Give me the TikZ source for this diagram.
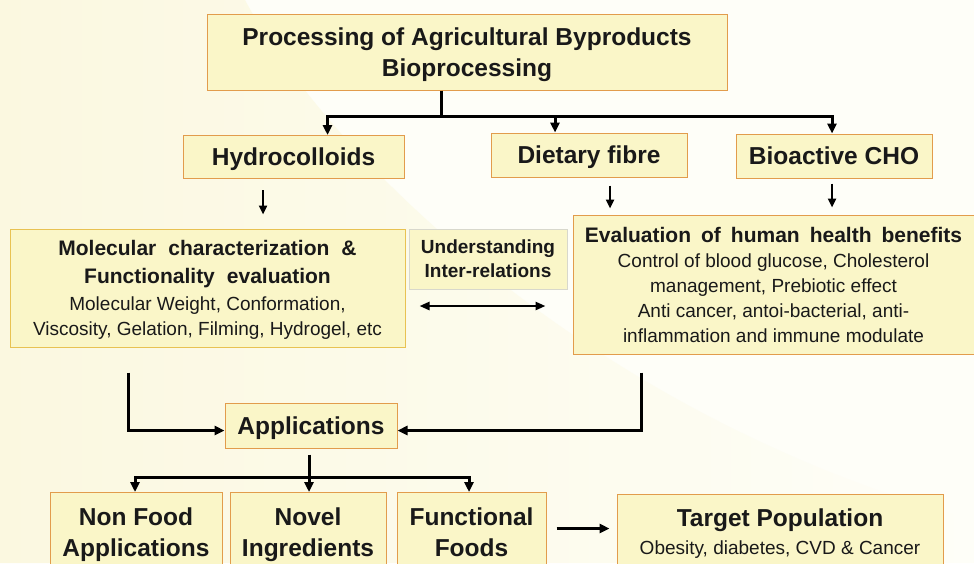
\documentclass[tikz,border=0pt]{standalone}
\usepackage{fontspec}
\setmainfont{Liberation Sans}
\usetikzlibrary{arrows.meta,positioning}
\definecolor{boxfill}{HTML}{FAF6C8}
\definecolor{boxline}{HTML}{E29C4C}
\definecolor{goldline}{HTML}{E8C252}
\definecolor{greyline}{HTML}{D8D8CC}
\definecolor{cream}{HTML}{FBF8E0}
\definecolor{paper}{HTML}{FEFEF8}
\tikzset{
  box/.style={draw=boxline, fill=boxfill, line width=1pt, align=center, inner sep=0pt, text=black!90},
  big/.style={font=\bfseries\fontsize{24.5}{31}\selectfont, text depth=0pt},
  conn/.style={line width=3pt},
  arr/.style={conn, -{Triangle[length=10pt,width=9pt]}},
  thinarr/.style={line width=2.4pt, -{Triangle[length=9pt,width=8pt]}},
  dbl/.style={line width=2.5pt, {Triangle[length=10pt,width=8pt]}-{Triangle[length=10pt,width=8pt]}}
}
\begin{document}
\begin{tikzpicture}[x=1pt,y=-1pt]
\useasboundingbox (0,0) rectangle (974,563);
\clip (0,0) rectangle (974,563);
\fill[paper] (0,0) rectangle (974,563);
\shade[left color=cream, right color=paper] (0,0) -- (245,0) .. controls (330,160) and (600,420) .. (974,520) -- (974,563) -- (0,563) -- cycle;

% top level
\node[box, big, text depth=-2pt, minimum width=520pt, minimum height=76pt] (proc) at (467,52) {Processing of Agricultural Byproducts\\Bioprocessing};
\node[box, big, minimum width=221pt, minimum height=43pt] (hydro) at (293.5,157) {Hydrocolloids};
\node[box, big, minimum width=196pt, minimum height=44pt] (fibre) at (589,155) {Dietary fibre};
\node[box, big, minimum width=196pt, minimum height=44pt] (cho) at (834,156) {Bioactive CHO};

\coordinate (fork1) at (441,116);
\draw[conn] (proc.south -| fork1) -- (fork1);
\draw[arr] (fork1) -| ([xshift=34pt]hydro.north);
\draw[arr] (fork1) -| ([xshift=-34pt]fibre.north);
\draw[arr] (fork1) -| ([xshift=-2pt]cho.north);

% evaluation level
\node[box, draw=goldline, minimum width=395pt, minimum height=118pt, text depth=-3pt, font=\fontsize{19}{24.5}\selectfont] (mol) at (207.5,288)
  {{\bfseries\fontsize{21}{24}\selectfont\spaceskip=12pt Molecular characterization \&}\\[3.5pt]
   {\bfseries\fontsize{21}{24}\selectfont\spaceskip=12pt Functionality evaluation}\\[2.5pt]
   Molecular Weight, Conformation,\\
   Viscosity, Gelation, Filming, Hydrogel, etc};
\node[box, draw=greyline, minimum width=158pt, minimum height=60pt, font=\bfseries\fontsize{19}{24}\selectfont] (inter) at (488,259)
  {Understanding\\Inter-relations};
\node[box, minimum width=401pt, minimum height=139pt, text depth=-4pt, font=\fontsize{19}{25}\selectfont] (eval) at (773.5,284.5)
  {{\bfseries\fontsize{21}{25}\selectfont\spaceskip=10pt Evaluation of human health benefits}\\
   Control of blood glucose, Cholesterol\\
   management, Prebiotic effect\\
   Anti cancer, antoi-bacterial, anti-\\
   inflammation and immune modulate};

\coordinate (hx) at (263,0);
\coordinate (fx) at (610,0);
\coordinate (cx) at (832,0);
\draw[thinarr, shorten >=14pt] (hydro.south -| hx) ++(0,11) -- (mol.north -| hx);
\draw[thinarr, shorten >=6pt] (fibre.south -| fx) ++(0,8) -- (eval.north -| fx);
\draw[thinarr, shorten >=7pt] (cho.south -| cx) ++(0,5) -- (eval.north -| cx);

\coordinate (dl) at ([yshift=-18pt]mol.east);
\draw[dbl, shorten <=14pt, shorten >=27pt] (dl) -- (dl -| eval.west);

% applications
\node[box, big, minimum width=172pt, minimum height=45pt] (app) at (311,425.5) {Applications};
\coordinate (lx) at (128,0);
\coordinate (rx) at (641,0);
\draw[arr] (mol.south -| lx) ++(0,25) |- ([yshift=-5pt]app.west);
\draw[arr] (eval.south -| rx) ++(0,18) |- ([yshift=-5pt]app.east);

\node[box, big, minimum width=172pt, minimum height=79pt] (nonfood) at (136,532) {Non Food\\Applications};
\node[box, big, minimum width=156pt, minimum height=79pt] (novel) at (308,532) {Novel\\Ingredients};
\node[box, big, minimum width=149pt, minimum height=79pt] (func) at (471.5,532) {Functional\\Foods};
\node[box, minimum width=326pt, minimum height=76pt, text depth=0pt, font=\fontsize{19}{28}\selectfont] (target) at (780,532)
  {{\bfseries\fontsize{24.5}{28}\selectfont Target Population}\\
   Obesity, diabetes, CVD \& Cancer};

\coordinate (fork2) at (309,477);
\draw[conn] (app.south -| fork2) ++(0,6) -- (fork2);
\draw[arr] (fork2) -| (nonfood.north -| 135,0);
\draw[arr] (fork2) -- (novel.north -| fork2);
\draw[arr] (fork2) -| (func.north -| 469,0);

\coordinate (tl) at ([yshift=3.5pt]func.east);
\draw[arr, shorten <=10pt, shorten >=7pt] (tl) -- (tl -| target.west);
\end{tikzpicture}
\end{document}
